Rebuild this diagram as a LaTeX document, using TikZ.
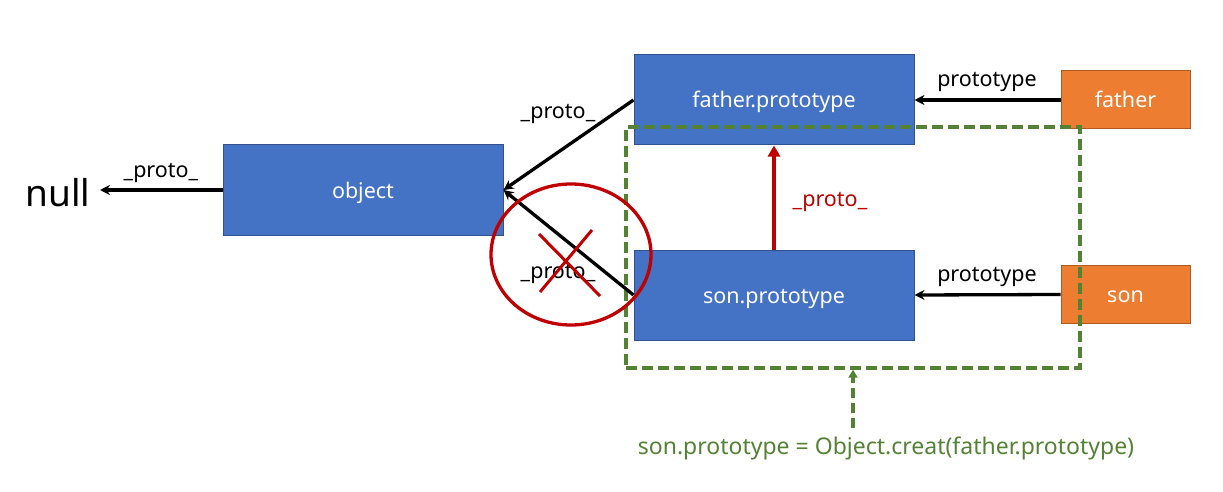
\documentclass[tikz,border=0pt]{standalone}
\usepackage{fontspec}
\setmainfont{Noto Sans}
\usetikzlibrary{arrows.meta,shapes.geometric}
\definecolor{boxblue}{HTML}{4472C4}
\definecolor{boxblueb}{HTML}{2F528F}
\definecolor{boxorange}{HTML}{ED7D31}
\definecolor{boxorangeb}{HTML}{AE5A21}
\definecolor{dkred}{HTML}{C00000}
\definecolor{dkgreen}{HTML}{548235}
\tikzset{
  bluebox/.style={draw=boxblueb, fill=boxblue, line width=1pt, minimum width=280pt, minimum height=90pt, inner sep=0pt, text=white, font=\fontsize{21.5}{24}\selectfont, text height=21pt, text depth=5pt},
  orangebox/.style={draw=boxorangeb, fill=boxorange, line width=1pt, minimum width=129pt, minimum height=58pt, inner sep=0pt, text=white, font=\fontsize{21.5}{24}\selectfont, text height=20pt, text depth=5pt},
  conn/.style={line width=3.3pt, -{Stealth[length=10pt,width=10pt]}},
  lbl/.style={font=\fontsize{21.5}{24}\selectfont, text=black, inner sep=0pt}
}
\begin{document}
\begin{tikzpicture}[x=1pt,y=-1pt]
\useasboundingbox (0,0) rectangle (1223,492);
% boxes
\node[bluebox] (obj) at (363,190) {object};
\node[bluebox] (fp) at (774,100) {father.prototype};
\node[bluebox] (sp) at (774,295) {son.prototype};
\node[orangebox] (fa) at (1125.5,100) {father};
\node[orangebox] (so) at (1125.5,294.5) {son};
\node[font=\fontsize{37}{44}\selectfont, inner sep=0pt] (null) at (58,193) {null};
% green dashed region
\node[draw=dkgreen, dashed, dash pattern=on 11pt off 5pt, line width=3.3pt, minimum width=454pt, minimum height=241pt, inner sep=0pt] (grp) at (853,247.5) {};
% connectors
\draw[conn] (obj.west) -- (100,190) coordinate (nulltip);
\draw[conn] (fp.west) -- (obj.east);
\draw[conn] (sp.west) -- (obj.east);
\draw[conn] (fa.west) -- (fp.east);
\draw[conn] (so.west) -- (sp.east);
\draw[line width=4pt, draw=dkred, -{Triangle[length=11pt,width=12pt]}] (sp.north) -- (fp.south);
% labels
\node[lbl] (l1) at (161,173) {\_proto\_};
\node[lbl] (l2) at (558,114) {\_proto\_};
\node[lbl] (l3) at (558,274) {\_proto\_};
\node[lbl, text=dkred] (l4) at (830,202) {\_proto\_};
\node[lbl] (l5) at (987,82) {prototype};
\node[lbl] (l6) at (987,277) {prototype};
% red cross circle
\node[draw=dkred, line width=3.3pt, ellipse, minimum width=160pt, minimum height=141pt, inner sep=0pt] (circ) at (571,254.5) {};
\draw[dkred, line width=3pt] (539,234) -- (600,296);
\draw[dkred, line width=3pt] (592,230) -- (540,292);
% note
\node[font=\fontsize{23}{26}\selectfont, text=dkgreen, inner sep=0pt] (note) at (886,448) {son.prototype = Object.creat(father.prototype)};
\coordinate (notetop) at (853,428);
\draw[dkgreen, line width=3.3pt, dashed, dash pattern=on 10pt off 5pt, -{Triangle[length=8pt,width=9pt]}] (notetop) -- (grp.south -| notetop);
\end{tikzpicture}
\end{document}
